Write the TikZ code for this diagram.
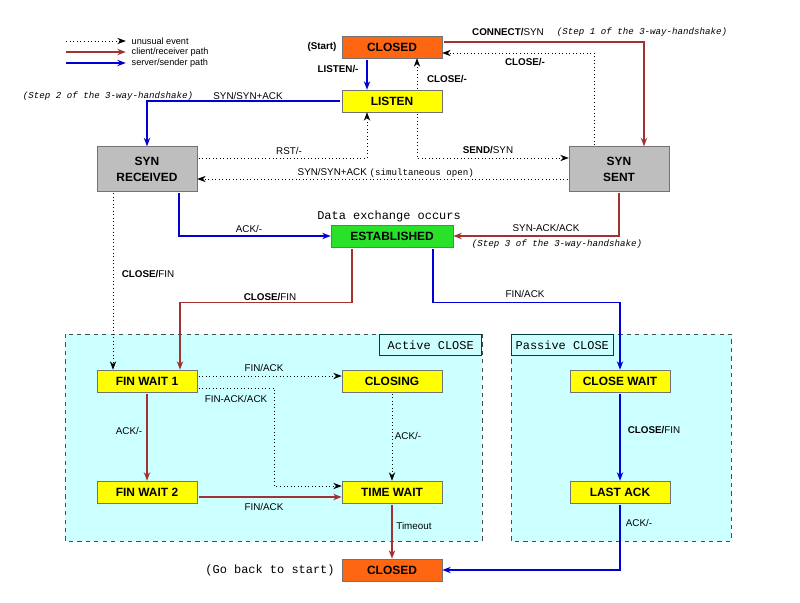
\documentclass[tikz,border=0pt]{standalone}
\usepackage{fontspec}
\setmainfont{Liberation Sans}
\setmonofont{Liberation Mono}
\usetikzlibrary{arrows.meta,calc}

\definecolor{clientred}{RGB}{160,50,50}
\definecolor{serverblue}{RGB}{0,0,210}
\definecolor{closedorange}{RGB}{255,102,17}
\definecolor{stateyellow}{RGB}{255,255,0}
\definecolor{estgreen}{RGB}{40,225,40}
\definecolor{syngray}{RGB}{190,190,190}
\definecolor{areacyan}{RGB}{204,255,255}

\begin{document}
\begin{tikzpicture}[x=0.025cm, y=-0.025cm,
		state/.style={draw=black!55, fill=stateyellow, minimum width=2.5cm, minimum height=0.55cm, inner sep=1pt, font=\fontsize{8.5}{11.5}\selectfont\bfseries},
		closedstate/.style={state, fill=closedorange},
		synstate/.style={state, fill=syngray, minimum height=1.12cm, align=center},
		eststate/.style={state, fill=estgreen, minimum width=3.05cm},
		client/.style={clientred, line width=1.1pt, -{Stealth[length=6pt,width=4.5pt]}, shorten <=1pt},
		server/.style={serverblue, line width=1.1pt, -{Stealth[length=6pt,width=4.5pt]}, shorten <=1pt},
		unusual/.style={black, dotted, line width=0.5pt, -{Stealth[length=6pt,width=4.5pt]}, shorten <=1pt},
		lbl/.style={inner sep=1pt, font=\fontsize{7}{8}\selectfont},
		boldlbl/.style={lbl, font=\fontsize{7}{8}\selectfont\bfseries},
		note/.style={inner sep=1pt, font=\ttfamily\itshape\fontsize{6.5}{8}\selectfont},
		remark/.style={inner sep=1pt, font=\ttfamily\fontsize{8.5}{10}\selectfont},
		legendtext/.style={inner sep=1pt, anchor=west, font=\fontsize{6.5}{7}\selectfont},
		area/.style={draw=black!70, dashed, fill=areacyan},
		areatitle/.style={draw=teal!50!black, fill=areacyan, minimum width=2.55cm, minimum height=0.53cm, inner sep=1pt, font=\ttfamily\fontsize{8.5}{10}\selectfont}]
	\useasboundingbox (0,0) rectangle (800,603);

	% closing areas
	\draw[area] (65,334) rectangle (482,541);
	\draw[area] (511,334) rectangle (731,541);
	\node[areatitle, anchor=north east] (activetitle) at (482,334) {Active CLOSE};
	\node[areatitle, anchor=north west] (passivetitle) at (511,334) {Passive CLOSE};

	% legend
	\coordinate (legunusualstart) at (65,41);
	\coordinate (legclientstart) at (65,52);
	\coordinate (legserverstart) at (65,63);
	\node[legendtext] (legunusual) at (130,41) {unusual event};
	\node[legendtext] (legclient) at (130,52) {client/receiver path};
	\node[legendtext] (legserver) at (130,63) {server/sender path};
	\draw[unusual] (legunusualstart) -- ([xshift=-3pt]legunusual.west);
	\draw[client] (legclientstart) -- ([xshift=-3pt]legclient.west);
	\draw[server] (legserverstart) -- ([xshift=-3pt]legserver.west);

	% states
	\node[closedstate] (closed) at (392,47) {CLOSED};
	\node[state] (listen) at (392,101) {LISTEN};
	\node[synstate] (synrec) at (147,169) {SYN\\RECEIVED};
	\node[synstate] (synsent) at (619,169) {SYN\\SENT};
	\node[eststate] (est) at (392,236) {ESTABLISHED};
	\node[state] (finwaita) at (147,381) {FIN WAIT 1};
	\node[state] (closing) at (392,381) {CLOSING};
	\node[state] (finwaitb) at (147,492) {FIN WAIT 2};
	\node[state] (timewait) at (392,492) {TIME WAIT};
	\node[state] (closewait) at (620,381) {CLOSE WAIT};
	\node[state] (lastack) at (620,492) {LAST ACK};
	\node[closedstate] (closedend) at (392,570) {CLOSED};

	% connection setup
	\draw[client] ($(closed.east)+(0,-5)$) -| ($(synsent.north)+(25,0)$);
	\draw[unusual] ($(synsent.north)+(-25,0)$) |- ($(closed.east)+(0,6)$);
	\draw[server] ($(closed.south)+(-25,0)$) -- ($(listen.north)+(-25,0)$);
	\draw[unusual] ($(listen.north)+(25,0)$) -- ($(closed.south)+(25,0)$);
	\draw[server] (listen.west) -| (synrec.north);
	\draw[unusual] ($(synrec.east)+(0,-11)$) -| ($(listen.south)+(-25,0)$);
	\draw[unusual] ($(listen.south)+(25,0)$) |- ($(synsent.west)+(0,-11)$);
	\draw[unusual] ($(synsent.west)+(0,10)$) -- ($(synrec.east)+(0,10)$);
	\draw[server] ($(synrec.south)+(32,0)$) |- (est.west);
	\draw[client] (synsent.south) |- (est.east);

	% connection teardown
	\draw[unusual] ($(synrec.south)+(-34,0)$) -- ($(finwaita.north)+(-34,0)$);
	\draw[client] ($(est.south)+(-40,0)$) -- ++(0,55) -| ($(finwaita.north)+(33,0)$);
	\draw[server] ($(est.south)+(41,0)$) -- ++(0,55) -| (closewait.north);
	\draw[unusual] ($(finwaita.east)+(0,-5)$) -- ($(closing.west)+(0,-5)$);
	\draw[unusual] ($(finwaita.east)+(0,7)$) -- ++(77,0) |- ($(timewait.west)+(0,-6)$);
	\draw[client] (finwaita.south) -- (finwaitb.north);
	\draw[unusual] (closing.south) -- (timewait.north);
	\draw[client] ($(finwaitb.east)+(0,5)$) -- ($(timewait.west)+(0,5)$);
	\draw[client] (timewait.south) -- (closedend.north);
	\draw[server] (closewait.south) -- (lastack.north);
	\draw[server] (lastack.south) |- (closedend.east);

	% labels
	\node[boldlbl] (lstart) at (322,47) {(Start)};
	\node[lbl] (lconnect) at (508,32) {{\bfseries CONNECT/}SYN};
	\node[note] (lstepa) at (642,32) {(Step 1 of the 3-way-handshake)};
	\node[boldlbl] (lclosea) at (525,62) {CLOSE/-};
	\node[boldlbl] (llisten) at (338,69) {LISTEN/-};
	\node[boldlbl] (lcloseb) at (447,79) {CLOSE/-};
	\node[note] (lstepb) at (108,96) {(Step 2 of the 3-way-handshake)};
	\node[lbl] (lsynack) at (248,96) {SYN/SYN+ACK};
	\node[lbl] (lrst) at (289,151) {RST/-};
	\node[lbl] (lsend) at (488,150) {{\bfseries SEND/}SYN};
	\node[lbl, anchor=west] (lsimul) at (296,173) {SYN/SYN+ACK {\ttfamily\fontsize{6.5}{8}\selectfont (simultaneous open)}};
	\node[remark] (ldata) at (389,216) {Data exchange occurs};
	\node[lbl] (lackest) at (249,229) {ACK/-};
	\node[lbl] (lsynackack) at (546,228) {SYN-ACK/ACK};
	\node[note] (lstepc) at (557,244) {(Step 3 of the 3-way-handshake)};
	\node[lbl] (lclosefina) at (148,274) {{\bfseries CLOSE/}FIN};
	\node[lbl] (lclosefinb) at (270,297) {{\bfseries CLOSE/}FIN};
	\node[lbl] (lfinackcw) at (525,294) {FIN/ACK};
	\node[lbl] (lfinackcl) at (264,368) {FIN/ACK};
	\node[lbl] (lfinackack) at (236,399) {FIN-ACK/ACK};
	\node[lbl] (lackfw) at (129,431) {ACK/-};
	\node[lbl] (lackcl) at (408,436) {ACK/-};
	\node[lbl] (lfinacktw) at (264,507) {FIN/ACK};
	\node[lbl] (ltimeout) at (414,526) {Timeout};
	\node[remark] (lgoback) at (270,570) {(Go back to start)};
	\node[lbl] (lclosefinc) at (654,430) {{\bfseries CLOSE/}FIN};
	\node[lbl] (lacklast) at (639,523) {ACK/-};
\end{tikzpicture}
\end{document}
